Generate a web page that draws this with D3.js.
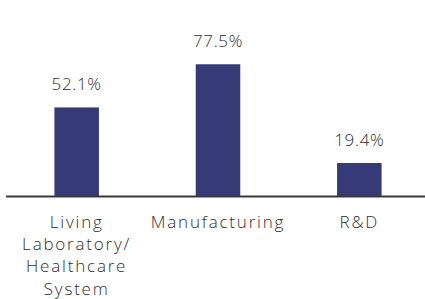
<!DOCTYPE html>
<meta charset="utf-8">
<html>
<head>
    <title>Share by segment</title>
    <style>
        body { margin: 0; background: #fff; }
        text { font-family: "Open Sans", sans-serif; font-weight: 300; fill: #2e2e2e; }
    </style>
    <script src="https://d3js.org/d3.v7.min.js"></script>
</head>
<body>
    <div id="chart"></div>
    <script>
        // data
        var categories = ["Living\nLaboratory/\nHealthcare\nSystem", "Manufacturing", "R&D"];
        var values = [52.1, 77.5, 19.4];
        var valueLabels = ["52.1%", "77.5%", "19.4%"];

        var width = 425, height = 299;
        var baseline = 196;

        var svg = d3.select("#chart").append("svg")
            .attr("width", width)
            .attr("height", height);

        var x = d3.scaleBand()
            .domain(categories)
            .range([6, 430])
            .paddingInner(0.685)
            .paddingOuter(0.3425);

        var y = d3.scaleLinear()
            .domain([0, 100])
            .range([baseline, baseline - 170]);

        var data = categories.map(function (c, i) {
            return { cat: c, value: values[i], label: valueLabels[i] };
        });

        // bars
        svg.selectAll("rect.bar")
            .data(data)
            .enter().append("rect")
            .attr("class", "bar")
            .attr("x", function (d) { return x(d.cat); })
            .attr("y", function (d) { return y(d.value); })
            .attr("width", x.bandwidth())
            .attr("height", function (d) { return baseline - y(d.value); })
            .attr("fill", "#363a77");

        // value labels
        svg.selectAll("text.val")
            .data(data)
            .enter().append("text")
            .attr("class", "val")
            .attr("x", function (d) { return x(d.cat) + x.bandwidth() / 2; })
            .attr("y", function (d) { return y(d.value) - 17; })
            .attr("text-anchor", "middle")
            .style("font-size", "17px")
            .style("letter-spacing", "0.65px")
            .text(function (d) { return d.label; });

        // axis line
        svg.append("line")
            .attr("x1", 6).attr("x2", width)
            .attr("y1", baseline + 0.5).attr("y2", baseline + 0.5)
            .attr("stroke", "#3a3a3a")
            .attr("stroke-width", 2);

        // category labels
        var cats = svg.selectAll("text.cat")
            .data(data)
            .enter().append("text")
            .attr("class", "cat")
            .attr("text-anchor", "middle")
            .attr("y", 228)
            .style("font-size", "17px")
            .style("letter-spacing", "1.8px");

        cats.each(function (d) {
            var t = d3.select(this);
            var cx = x(d.cat) + x.bandwidth() / 2;
            d.cat.split("\n").forEach(function (line, i) {
                t.append("tspan")
                    .attr("x", cx)
                    .attr("dy", i === 0 ? 0 : 22.2)
                    .text(line);
            });
        });
    </script>
</body>
</html>
